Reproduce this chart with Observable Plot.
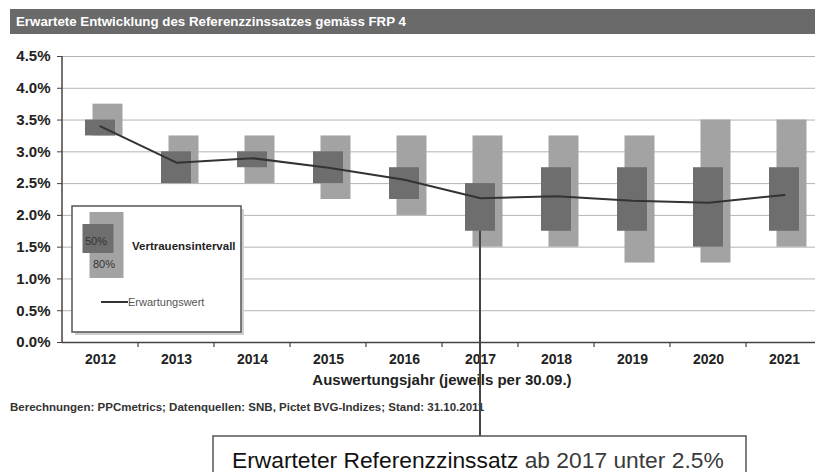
<!DOCTYPE html>
<html><head><meta charset="utf-8">
<script src="https://cdn.jsdelivr.net/npm/d3@7"></script>
<script src="https://cdn.jsdelivr.net/npm/@observablehq/plot@0.6"></script>
<style>
html,body{margin:0;padding:0;background:#fff;overflow:hidden;}
#chart svg{display:block;overflow:hidden;}
</style></head><body><div id="chart"></div>
<script>
// ---- data (percent) ----
const years = ["2012","2013","2014","2015","2016","2017","2018","2019","2020","2021"];
const ci50Low  = [3.25, 2.50, 2.75, 2.50, 2.25, 1.75, 1.75, 1.75, 1.50, 1.75];
const ci50High = [3.50, 3.00, 3.00, 3.00, 2.75, 2.50, 2.75, 2.75, 2.75, 2.75];
const ci80Low  = [3.25, 2.50, 2.50, 2.25, 2.00, 1.50, 1.50, 1.25, 1.25, 1.50];
const ci80High = [3.75, 3.25, 3.25, 3.25, 3.25, 3.25, 3.25, 3.25, 3.50, 3.50];
const expected = [3.40, 2.83, 2.90, 2.75, 2.56, 2.27, 2.30, 2.23, 2.20, 2.32];
const yTicks = [0, 0.5, 1.0, 1.5, 2.0, 2.5, 3.0, 3.5, 4.0, 4.5];

const titleText = "Erwartete Entwicklung des Referenzzinssatzes gemäss FRP 4";
const xTitle = "Auswertungsjahr (jeweils per 30.09.)";
const sourceText = "Berechnungen: PPCmetrics; Datenquellen: SNB, Pictet BVG-Indizes; Stand: 31.10.2011";
const legend50 = "50%", legend80 = "80%", legendCI = "Vertrauensintervall", legendExp = "Erwartungswert";
const calloutYear = "2017";
const calloutBold = "Erwarteter Referenzzinssatz", calloutRest = " ab 2017 unter 2.5%";

const data = years.map((year, i) => ({
  year, lo50: ci50Low[i], hi50: ci50High[i], lo80: ci80Low[i], hi80: ci80High[i], exp: expected[i]
}));

const FONT = "Liberation Sans, Arial, Helvetica, sans-serif";
const W = 815, H = 472;
const C_DARK = "#6e6e6e", C_LIGHT = "#a3a3a3", C_LINE = "#333333", C_GRID = "#b4b4b4";

const plot = Plot.plot({
  width: W, height: H,
  marginLeft: 62, marginRight: -7, marginTop: 56, marginBottom: 130,
  style: {fontFamily: FONT, background: "white", color: "#222"},
  x: {domain: years, padding: 0},
  y: {domain: [0, 4.5]},
  marks: [
    Plot.gridY(yTicks, {stroke: C_GRID, strokeOpacity: 1, strokeWidth: 1}),
    Plot.axisY(yTicks, {tickFormat: d => d.toFixed(1) + "%", tickSize: 5, tickPadding: 7,
      fontSize: 15, fontWeight: "bold", fill: "#222", stroke: "#444", label: null}),
    Plot.axisX({tickSize: 0, tickPadding: 12, fontSize: 14, fontWeight: "bold", fill: "#222", label: null}),
    Plot.barY(data, {x: "year", y1: "lo80", y2: "hi80", fill: C_LIGHT, insetLeft: 30.5, insetRight: 15.5}),
    Plot.barY(data, {x: "year", y1: "lo50", y2: "hi50", fill: C_DARK, insetLeft: 23, insetRight: 23}),
    Plot.line(data, {x: "year", y: "exp", stroke: C_LINE, strokeWidth: 2}),
    Plot.ruleY([0], {stroke: "#444", strokeWidth: 1.5})
  ]
});
document.getElementById("chart").appendChild(plot);

const svg = d3.select(plot);
const xs = plot.scale("x"), ys = plot.scale("y");
const bw = xs.bandwidth;
const x0 = xs.apply(years[0]);
const xEnd = xs.apply(years[years.length - 1]) + bw;
const yTop = ys.apply(4.5), yBot = ys.apply(0);

const txt = (sel, x, y, size, weight, fill, anchor) =>
  sel.append("text").attr("x", x).attr("y", y).attr("font-family", FONT).attr("font-size", size)
    .attr("font-weight", weight).attr("fill", fill).attr("text-anchor", anchor || "start");

// y-axis line
svg.append("line").attr("x1", x0).attr("x2", x0).attr("y1", yTop).attr("y2", yBot)
  .attr("stroke", "#444").attr("stroke-width", 1.5);
// x category boundary ticks
years.forEach((y) => {
  const xx = xs.apply(y) + bw;
  svg.append("line").attr("x1", xx).attr("x2", xx).attr("y1", yBot).attr("y2", yBot + 5)
    .attr("stroke", "#444").attr("stroke-width", 1.2);
});

// title bar
svg.append("rect").attr("x", 10).attr("y", 9).attr("width", W - 10).attr("height", 25).attr("fill", "#6a6a6a");
txt(svg, 16, 26, 13.3, "bold", "#fff").text(titleText);

// x-axis title
txt(svg, (x0 + xEnd) / 2, 385, 15, "bold", "#222", "middle").text(xTitle);

// source line
txt(svg, 10, 411, 11.5, "bold", "#333").text(sourceText);

// legend box
const lg = svg.append("g");
lg.append("rect").attr("x", 75).attr("y", 209).attr("width", 169).attr("height", 126).attr("fill", "#cfcfcf");
lg.append("rect").attr("x", 72).attr("y", 206).attr("width", 169).attr("height", 126)
  .attr("fill", "#fff").attr("stroke", "#555").attr("stroke-width", 1.5);
lg.append("rect").attr("x", 89.5).attr("y", 212).attr("width", 34).attr("height", 66).attr("fill", C_LIGHT);
lg.append("rect").attr("x", 82.5).attr("y", 224).attr("width", 31).attr("height", 29).attr("fill", C_DARK);
txt(lg, 85, 245, 11, "normal", "#333").text(legend50);
txt(lg, 93, 268, 11, "normal", "#333").text(legend80);
txt(lg, 132, 250, 11.5, "bold", "#222").text(legendCI);
lg.append("line").attr("x1", 101).attr("x2", 128).attr("y1", 302).attr("y2", 302)
  .attr("stroke", C_LINE).attr("stroke-width", 2);
txt(lg, 128, 306, 11, "normal", "#555").text(legendExp);

// callout
const ci = years.indexOf(calloutYear);
const cx = xs.apply(calloutYear) + bw / 2;
const boxTop = 436;
svg.append("line").attr("x1", cx).attr("x2", cx).attr("y1", ys.apply(ci50Low[ci])).attr("y2", boxTop)
  .attr("stroke", "#444").attr("stroke-width", 2);
svg.append("rect").attr("x", 213).attr("y", boxTop).attr("width", 533).attr("height", 60)
  .attr("fill", "#fff").attr("stroke", "#555").attr("stroke-width", 1.5);
const ct = txt(svg, 232, 468, 22.8, "normal", "#111");
ct.append("tspan").attr("fill", "#111").text(calloutBold);
ct.append("tspan").attr("fill", "#3a3a3a").text(calloutRest);
</script>
</body></html>
